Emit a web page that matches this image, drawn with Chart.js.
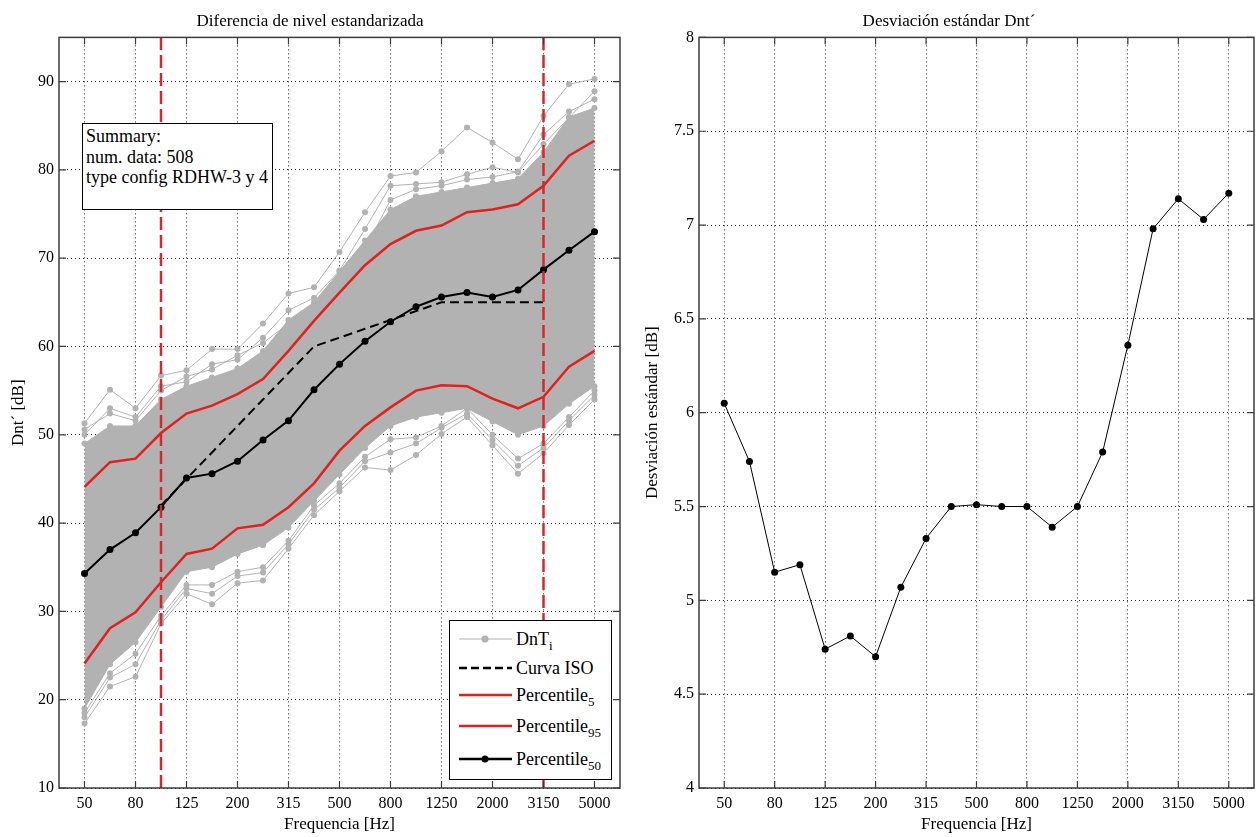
<!DOCTYPE html>
<html>
<head>
<meta charset="utf-8">
<script src="https://cdn.jsdelivr.net/npm/chart.js@4.4.0/dist/chart.umd.min.js"></script>
<style>
  body { margin: 0; background: #fff; }
  #wrap { position: relative; width: 1258px; height: 837px; overflow: hidden; font-family: "Liberation Serif", "Times New Roman", serif; color: #000; }
  #left { position: absolute; left: 0; top: 0; }
  #right { position: absolute; left: 640px; top: 0; }
  .box { position: absolute; background: #fff; border: 1px solid #000; font-size: 18px; }
  #summary { left: 82px; top: 123px; width: 191px; height: 87px; padding: 2px 0 0 3px; box-sizing: border-box; line-height: 20.5px; }
  #legend { left: 449px; top: 620px; width: 163px; height: 160px; box-sizing: border-box; }
  #legend .row { position: absolute; left: 0; height: 24px; }
  #legend svg { position: absolute; left: 9px; top: 0; }
  #legend span { position: absolute; left: 66px; top: 0; line-height: 22px; white-space: nowrap; }
  #legend sub { font-size: 13px; vertical-align: -5px; line-height: 0; }
</style>
</head>
<body>
<div id="wrap">
  <canvas id="left" width="640" height="837"></canvas>
  <canvas id="right" width="618" height="837"></canvas>
  <div id="summary" class="box">Summary:<br>num. data: 508<br>type config RDHW-3 y 4</div>
  <div id="legend" class="box"></div>
</div>
<script>
const freqs = ['50','63','80','100','125','160','200','250','315','400','500','630','800','1000','1250','1600','2000','2500','3150','4000','5000'];
const dbTicks = [10,20,30,40,50,60,70,80,90];
const sdTicks = [4,4.5,5,5.5,6,6.5,7,7.5,8];
const limitFreqs = ['100','3150'];

// percentiles of the 508 measurements
const p50 = [34.3,37.0,38.9,41.8,45.1,45.6,47.0,49.4,51.6,55.1,58.0,60.6,62.8,64.5,65.6,66.1,65.6,66.4,68.7,70.9,73.0];
const p95 = [44.1,46.9,47.3,50.2,52.4,53.3,54.6,56.3,59.5,62.9,66.1,69.2,71.6,73.1,73.7,75.2,75.5,76.1,78.2,81.6,83.3];
const p5  = [24.1,28.1,29.9,33.3,36.5,37.1,39.4,39.8,41.8,44.5,48.2,51.0,53.1,55.0,55.6,55.5,54.1,53.0,54.3,57.7,59.5];
const iso = [null,null,null,42,45,48,51,54,57,60,61,62,63,64,65,65,65,65,65,null,null];

// dense part of the DnT_i cloud and the visible outlying curves
const bandHigh = [49,51,51,54,55.5,56.5,57.5,59.5,63,65,68.5,72,75.5,77,77.5,78,78.5,79,82,86,87];
const bandLow  = [19,24,26.5,30.5,34.5,35,36.5,37.5,39.5,42.5,45.5,48.5,51,52,52.5,53,51.5,50,51,53.5,55.5];
const upperA = [51.3,55.1,53.0,56.7,57.3,59.7,59.7,62.6,66.0,66.7,70.7,75.2,79.3,79.7,82.1,84.8,83.1,81.2,86.1,89.7,90.3];
const upperB = [50.0,53.0,52.0,55.5,56.0,58.0,58.5,61.0,64.1,65.5,68.6,73.3,78.2,78.4,78.6,79.5,80.3,79.7,82.9,85.9,88.9];
const upperE = [50.6,52.4,51.6,55.0,56.6,57.4,59.0,60.4,62.6,64.3,67.2,71.0,76.6,77.8,78.2,78.9,79.2,79.8,84.0,86.6,88.0];
const lowerC = [17.3,21.5,22.6,28.6,32.0,30.8,33.2,33.5,37.1,40.9,43.6,46.3,46.0,47.7,50.1,52.0,48.8,45.6,47.9,51.1,54.0];
const lowerD = [18.5,23.0,25.2,29.5,33.0,33.0,34.5,35.0,38.0,42.0,44.5,47.5,49.5,49.7,51.0,53.0,50.0,47.3,49.0,52.0,55.0];
const lowerF = [18.0,22.5,24.0,29.0,32.6,32.0,34.0,34.4,37.6,41.5,44.0,47.0,48.0,49.0,50.8,52.4,49.4,46.5,48.5,51.6,54.5];

// standard deviation per band
const sdev = [6.05,5.74,5.15,5.19,4.74,4.81,4.70,5.07,5.33,5.50,5.51,5.50,5.50,5.39,5.50,5.79,6.36,6.98,7.14,7.03,7.17];

const gray = '#b2b2b2';
const red = '#e3201b';
const font = '"Liberation Serif", "Times New Roman", serif';

const xy = vals => vals.map((v, i) => ({x: i, y: v}));

function grayLine(vals, extra) {
    return Object.assign({
        data: xy(vals), borderColor: gray, backgroundColor: gray, borderWidth: 1,
        pointRadius: 3, pointBorderWidth: 0, fill: false, order: 10
    }, extra);
}

// box around the plot and inward ticks on every side
const framePlugin = {
    id: 'frame',
    afterDraw(chart) {
        const {ctx, chartArea: a, scales} = chart;
        ctx.save();
        ctx.strokeStyle = '#3c3c3c';
        ctx.lineWidth = 1.5;
        ctx.strokeRect(a.left, a.top, a.right - a.left, a.bottom - a.top);
        ctx.lineWidth = 1.2;
        ctx.beginPath();
        scales.x.ticks.forEach(t => {
            const px = scales.x.getPixelForValue(t.value);
            ctx.moveTo(px, a.bottom); ctx.lineTo(px, a.bottom - 7);
            ctx.moveTo(px, a.top); ctx.lineTo(px, a.top + 7);
        });
        scales.y.ticks.forEach(t => {
            const py = scales.y.getPixelForValue(t.value);
            ctx.moveTo(a.left, py); ctx.lineTo(a.left + 7, py);
            ctx.moveTo(a.right, py); ctx.lineTo(a.right - 7, py);
        });
        ctx.stroke();
        ctx.restore();
    }
};

function makeOptions(title, yTitle, yMin, yMax, yTicks, yTitlePad, rightPad) {
    return {
        responsive: false,
        animation: false,
        events: [],
        layout: {padding: {left: 0, right: rightPad, top: 0, bottom: 0}},
        plugins: {
            legend: {display: false},
            tooltip: {enabled: false},
            title: {display: true, text: title, color: '#000',
                font: {family: font, size: 17, weight: 'normal'}, padding: {top: 11, bottom: 6}}
        },
        scales: {
            x: {
                type: 'linear', min: -1, max: freqs.length,
                afterBuildTicks: s => { s.ticks = freqs.map((f, i) => i).filter(i => i % 2 === 0).map(i => ({value: i})); },
                afterFit: s => { s.height = 49; },
                ticks: {callback: v => freqs[v], color: '#000', font: {family: font, size: 16},
                    padding: 6, autoSkip: false, maxRotation: 0},
                grid: {color: 'rgba(0,0,0,0.85)', lineWidth: 1, drawTicks: false},
                border: {display: false, dash: [1, 3]},
                title: {display: true, text: 'Frequencia [Hz]', color: '#000',
                    font: {family: font, size: 17}, padding: {top: 0, bottom: 2}}
            },
            y: {
                min: yMin, max: yMax,
                afterBuildTicks: s => { s.ticks = yTicks.map(v => ({value: v})); },
                afterFit: s => { s.width = 59; },
                ticks: {callback: v => String(v), color: '#000', font: {family: font, size: 16}, padding: 5},
                grid: {color: 'rgba(0,0,0,0.85)', lineWidth: 1, drawTicks: false},
                border: {display: false, dash: [1, 3]},
                title: {display: true, text: yTitle, color: '#000',
                    font: {family: font, size: 17}, padding: {top: yTitlePad, bottom: 0}}
            }
        }
    };
}

const dbMin = 10, dbMax = 95;
const limitLines = limitFreqs.map(f => ({
    data: [{x: freqs.indexOf(f), y: dbMin}, {x: freqs.indexOf(f), y: dbMax}],
    borderColor: '#d8262a', borderWidth: 2.5, borderDash: [13, 5], pointRadius: 0, fill: false, order: 0
}));

const leftChart = new Chart(document.getElementById('left'), {
    type: 'line',
    data: {
        datasets: [
            grayLine(bandHigh, {fill: '+1', order: 12}),
            grayLine(bandLow, {order: 12}),
            grayLine(upperA), grayLine(upperB), grayLine(upperE),
            grayLine(lowerC), grayLine(lowerD), grayLine(lowerF),
            {label: 'Percentile5', data: xy(p5), borderColor: red, borderWidth: 2.5, pointRadius: 0, fill: false, order: 5},
            {label: 'Percentile95', data: xy(p95), borderColor: red, borderWidth: 2.5, pointRadius: 0, fill: false, order: 5},
            {label: 'Curva ISO', data: xy(iso), borderColor: '#000', borderWidth: 2, borderDash: [9, 5], pointRadius: 0, fill: false, order: 4},
            {label: 'Percentile50', data: xy(p50), borderColor: '#000', backgroundColor: '#000', borderWidth: 2,
                pointRadius: 3.5, pointBorderWidth: 0, fill: false, order: 3},
            ...limitLines
        ]
    },
    options: makeOptions('Diferencia de nivel estandarizada', 'Dnt\u00b4 [dB]', dbMin, dbMax, dbTicks, 8, 20),
    plugins: [framePlugin]
});

const rightChart = new Chart(document.getElementById('right'), {
    type: 'line',
    data: {
        datasets: [{label: 'Desviación', data: xy(sdev), borderColor: '#000', backgroundColor: '#000',
            borderWidth: 1, pointRadius: 3.5, pointBorderWidth: 0, fill: false}]
    },
    options: makeOptions('Desviación estándar Dnt\u00b4', 'Desviación estándar [dB]', 4, 8, sdTicks, 2, 0),
    plugins: [framePlugin]
});

// legend box in the lower right corner of the left plot
const legendItems = [
    {html: 'DnT<sub>i</sub>', color: gray, width: 1, dash: '', marker: true, top: 7},
    {html: 'Curva ISO', color: '#000', width: 2.5, dash: '8 4', marker: false, top: 36},
    {html: 'Percentile<sub>5</sub>', color: red, width: 2.5, dash: '', marker: false, top: 63},
    {html: 'Percentile<sub>95</sub>', color: red, width: 2.5, dash: '', marker: false, top: 94},
    {html: 'Percentile<sub>50</sub>', color: '#000', width: 2.5, dash: '', marker: true, top: 127}
];
const legendBox = document.getElementById('legend');
let rows = '';
for (let item of legendItems) {
    const dot = item.marker ? `<circle cx="26" cy="11" r="3.5" fill="${item.color}"/>` : '';
    rows += `<div class="row" style="top:${item.top}px"><svg width="54" height="22">` +
        `<line x1="0" y1="11" x2="53" y2="11" stroke="${item.color}" stroke-width="${item.width}" stroke-dasharray="${item.dash}"/>${dot}</svg>` +
        `<span>${item.html}</span></div>`;
}
legendBox.innerHTML = rows;
</script>
</body>
</html>
